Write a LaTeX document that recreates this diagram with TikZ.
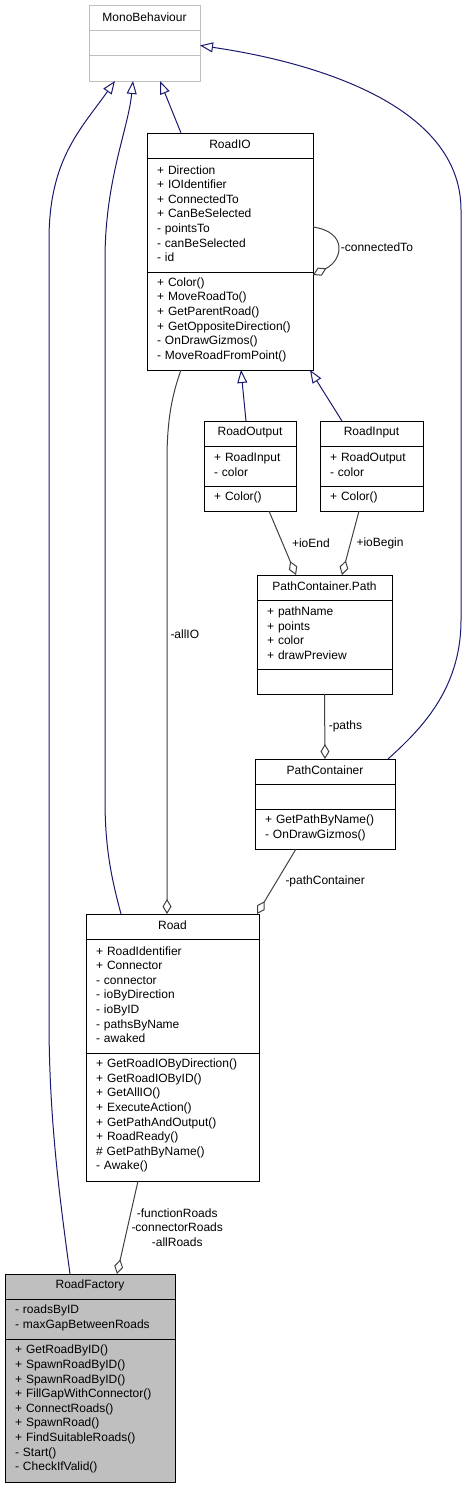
\documentclass[tikz,border=0pt]{standalone}
\usepackage{fontspec}
\setmainfont{Liberation Sans}
\usetikzlibrary{arrows.meta, positioning}

\definecolor{edgeblue}{RGB}{25,25,112}
\definecolor{edgegray}{RGB}{64,64,64}
\definecolor{boxgray}{RGB}{191,191,191}

\begin{document}
\begin{tikzpicture}[
    x=1pt, y=1pt,
    % ── Global ──
    node distance=0pt,
    % ── Class box styles (one node per compartment) ──
    classbox/.style={
        rectangle, draw=black, line width=1pt, fill=white,
        outer sep=0pt, inner xsep=10pt, inner ysep=0pt,
        text width=#1-20pt, text height=6pt,
        font=\fontsize{12}{14.6}\selectfont
    },
    headbox/.style={classbox=#1, align=center, minimum height=25pt},
    membox/.style 2 args={classbox=#1, align=left, minimum height=#2},
    basebox/.style={draw=boxgray},
    focusbox/.style={fill=boxgray},
    % ── Edge styles ──
    inherit/.style={draw=edgeblue, line width=1pt,
        -{Triangle[open, length=13pt, width=10pt]}},
    member/.style={draw=edgegray, line width=1pt,
        -{Diamond[open, length=15pt, width=9pt]}},
    lbl/.style={font=\fontsize{12}{14.6}\selectfont, inner sep=1pt, align=center},
]

\useasboundingbox (0,0) rectangle (468,-1488);

% ════════════════════════════════════════════════════════
%  CLASSES
% ════════════════════════════════════════════════════════

\node (Mono)  [headbox=111pt, basebox, anchor=north west] at (89,-6) {MonoBehaviour};
\node (MonoA) [membox={111pt}{25pt}, basebox, below=of Mono] {};
\node (MonoM) [membox={111pt}{25pt}, basebox, below=of MonoA] {};

\node (RoadIO)  [headbox=166pt, anchor=north west] at (147,-133) {RoadIO};
\node (RoadIOA) [membox={166pt}{114pt}, below=of RoadIO]
    {+ Direction\\+ IOIdentifier\\+ ConnectedTo\\+ CanBeSelected\\- pointsTo\\- canBeSelected\\- id};
\node (RoadIOM) [membox={166pt}{98pt}, below=of RoadIOA]
    {+ Color()\\+ MoveRoadTo()\\+ GetParentRoad()\\+ GetOppositeDirection()\\- OnDrawGizmos()\\- MoveRoadFromPoint()};

\node (Out)  [headbox=92pt, anchor=north west] at (204,-421) {RoadOutput};
\node (OutA) [membox={92pt}{40pt}, below=of Out] {+ RoadInput\\- color};
\node (OutM) [membox={92pt}{25pt}, below=of OutA] {+ Color()};

\node (In)  [headbox=103pt, anchor=north west] at (320,-421) {RoadInput};
\node (InA) [membox={103pt}{40pt}, below=of In] {+ RoadOutput\\- color};
\node (InM) [membox={103pt}{25pt}, below=of InA] {+ Color()};

\node (Path)  [headbox=135pt, anchor=north west] at (257,-575) {PathContainer.Path};
\node (PathA) [membox={135pt}{69pt}, below=of Path]
    {+ pathName\\+ points\\+ color\\+ drawPreview};
\node (PathM) [membox={135pt}{25pt}, below=of PathA] {};

\node (PC)  [headbox=140pt, anchor=north west] at (255,-759) {PathContainer};
\node (PCA) [membox={140pt}{25pt}, below=of PC] {};
\node (PCM) [membox={140pt}{40pt}, below=of PCA]
    {+ GetPathByName()\\- OnDrawGizmos()};

\node (Road)  [headbox=173pt, anchor=north west] at (86,-914) {Road};
\node (RoadA) [membox={173pt}{114pt}, below=of Road]
    {+ RoadIdentifier\\+ Connector\\- connector\\- ioByDirection\\- ioByID\\- pathsByName\\- awaked};
\node (RoadM) [membox={173pt}{128pt}, below=of RoadA]
    {+ GetRoadIOByDirection()\\+ GetRoadIOByID()\\+ GetAllIO()\\+ ExecuteAction()\\+ GetPathAndOutput()\\+ RoadReady()\\\# GetPathByName()\\- Awake()};

\node (RF)  [headbox=170pt, focusbox, anchor=north west] at (5,-1274) {RoadFactory};
\node (RFA) [membox={170pt}{40pt}, focusbox, below=of RF]
    {- roadsByID\\- maxGapBetweenRoads};
\node (RFM) [membox={170pt}{143pt}, focusbox, below=of RFA]
    {+ GetRoadByID()\\+ SpawnRoadByID()\\+ SpawnRoadByID()\\+ FillGapWithConnector()\\+ ConnectRoads()\\+ SpawnRoad()\\+ FindSuitableRoads()\\- Start()\\- CheckIfValid()};

% ════════════════════════════════════════════════════════
%  INHERITANCE
% ════════════════════════════════════════════════════════

\draw [inherit] ([xshift=65pt]RF.north west)
    .. controls (60,-1200) and (49,-1120) .. (49,-1020) -- (49,-240)
    .. controls (49,-160) and (80,-130) .. ([xshift=26pt]MonoM.south west);
\draw [inherit] ([xshift=35pt]Road.north west)
    .. controls (112,-880) and (105,-850) .. (105,-800) -- (105,-260)
    .. controls (105,-180) and (128,-130) .. ([xshift=44pt]MonoM.south west);
\draw [inherit] ([xshift=34pt]RoadIO.north west) -- ([xshift=71pt]MonoM.south west);
\draw [inherit] ([xshift=-7pt]PC.north east)
    .. controls (420,-730) and (461,-690) .. (461,-620) -- (461,-210)
    .. controls (461,-100) and (300,-60) .. ([yshift=-2pt]MonoA.east);

\draw [inherit] ([xshift=42pt]Out.north west) -- ([xshift=94pt]RoadIOM.south west);
\draw [inherit] ([xshift=22pt]In.north west)  -- ([xshift=-3pt]RoadIOM.south east);

% ════════════════════════════════════════════════════════
%  MEMBERS
% ════════════════════════════════════════════════════════

% self reference
\draw [member] ([yshift=-12pt]RoadIOA.east)
    .. controls (348,-232) and (343,-260) .. ([yshift=-3pt]RoadIOM.north east)
    node[lbl, pos=0.5, right=2pt] {-connectedTo};

\draw [member] ([xshift=34pt]RoadIOM.south west)
    .. controls (172,-395) and (167,-420) .. (167,-460)
    -- node[lbl, pos=0.384, right=2pt] {-allIO} ([xshift=81pt]Road.north west);

\draw [member] ([xshift=65pt]OutM.south west)
    -- node[lbl, right=8pt] {+ioEnd} ([xshift=39pt]Path.north west);
\draw [member] ([xshift=39pt]InM.south west)
    -- node[lbl, right=4.5pt] {+ioBegin} ([xshift=85pt]Path.north west);

\draw [member] (PathM.south) -- node[lbl, right=2.5pt] {-paths} (PC.north);
\draw [member] ([xshift=41pt]PCM.south west)
    -- node[lbl, right=7.5pt] {-pathContainer} ([xshift=-2pt]Road.north east);

\draw [member] ([xshift=52pt]RoadM.south west)
    -- node[lbl, right=2.5pt] {-functionRoads\\-connectorRoads\\-allRoads} ([xshift=112pt]RF.north west);

\end{tikzpicture}
\end{document}
